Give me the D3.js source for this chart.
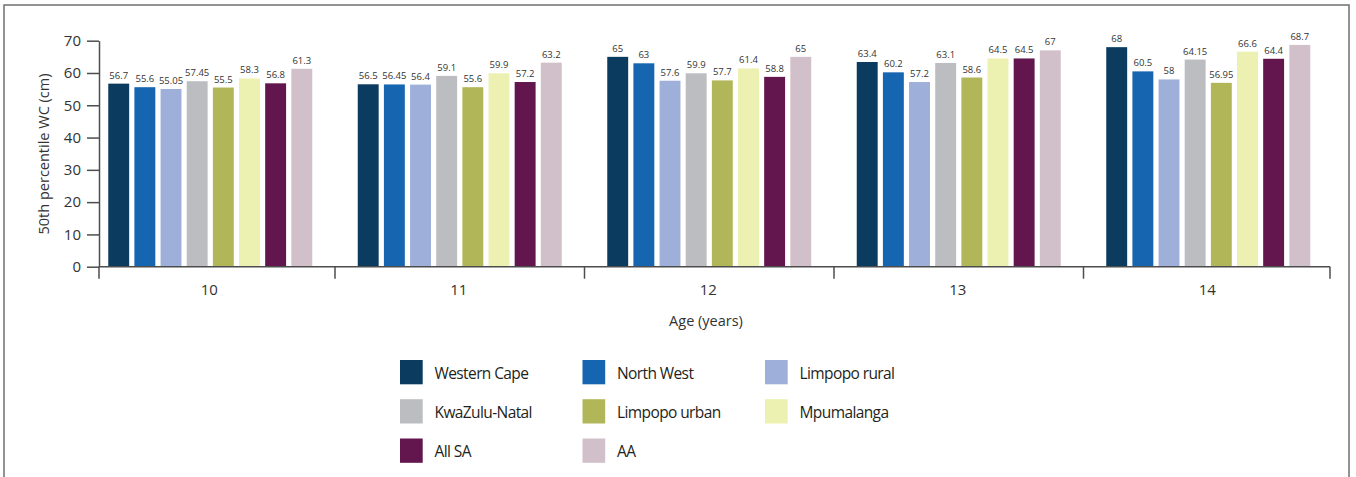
<!DOCTYPE html>
<html><head><meta charset="utf-8">
<script src="https://cdn.jsdelivr.net/npm/d3@7"></script>
<style>
body{margin:0;background:#fff}
svg{display:block}
text{font-family:"Open Sans","Noto Sans",sans-serif}
</style>
</head><body><svg id="c" width="1356" height="477"></svg>
<script>
// ---- data ----
const ages = ["10", "11", "12", "13", "14"];
const seriesNames = ["Western Cape", "North West", "Limpopo rural", "KwaZulu-Natal", "Limpopo urban", "Mpumalanga", "All SA", "AA"];
const westernCape  = [56.7, 56.5, 65, 63.4, 68];
const northWest    = [55.6, 56.45, 63, 60.2, 60.5];
const limpopoRural = [55.05, 56.4, 57.6, 57.2, 58];
const kwaZuluNatal = [57.45, 59.1, 59.9, 63.1, 64.15];
const limpopoUrban = [55.5, 55.6, 57.7, 58.6, 56.95];
const mpumalanga   = [58.3, 59.9, 61.4, 64.5, 66.6];
const allSA        = [56.8, 57.2, 58.8, 64.5, 64.4];
const aa           = [61.3, 63.2, 65, 67, 68.7];
const yTicks = [0, 10, 20, 30, 40, 50, 60, 70];
const xTitle = "Age (years)";
const yTitle = "50th percentile WC (cm)";

const seriesValues = [westernCape, northWest, limpopoRural, kwaZuluNatal, limpopoUrban, mpumalanga, allSA, aa];
const colors = ["#0c3b60", "#1565b0", "#9eb0d9", "#bcbdc1", "#b1b758", "#ecf0b0", "#62164d", "#d1bfc9"];

const svg = d3.select("#c");
const axisColor = "#4d4d4d";
const textColor = "#333";

// frame
svg.append("path")
  .attr("d", "M4,477V5H1349V477")
  .attr("fill", "none").attr("stroke", "#707070").attr("stroke-width", 1.5);

const axisLeft = 99, axisRight = 1330, plotBottom = 266.7, plotTop = 40.7;

const y = d3.scaleLinear().domain([0, 70]).range([plotBottom, plotTop]);
const x = d3.scaleBand().domain(ages).range([85.5, 1333]);
const groupW = 204;
const x1 = d3.scaleBand().domain(seriesNames).range([0, groupW]).paddingInner(0.2);
const groupOff = (x.bandwidth() - groupW) / 2;

// y axis
const ya = svg.append("g").attr("transform", `translate(${axisLeft},0)`)
  .call(d3.axisLeft(y).tickValues(yTicks).tickSize(12).tickSizeOuter(0).tickPadding(6));
ya.select(".domain").attr("stroke", axisColor).attr("stroke-width", 1.5);
ya.selectAll(".tick line").attr("stroke", axisColor).attr("stroke-width", 1.5);
ya.selectAll(".tick text").attr("fill", textColor).style("font-size", "15px")
  .style("font-family", '"Open Sans","Noto Sans",sans-serif');

// bars
const data = [];
ages.forEach((a, i) => seriesNames.forEach((s, j) => data.push({age: a, series: s, value: seriesValues[j][i], color: colors[j]})));

svg.append("g").selectAll("rect").data(data).join("rect")
  .attr("x", d => x(d.age) + groupOff + x1(d.series))
  .attr("width", x1.bandwidth())
  .attr("y", d => y(d.value))
  .attr("height", d => y(0) - y(d.value))
  .attr("fill", d => d.color);

svg.append("g").selectAll("text").data(data).join("text")
  .attr("x", d => x(d.age) + groupOff + x1(d.series) + x1.bandwidth() / 2)
  .attr("y", d => y(d.value) - 5)
  .attr("text-anchor", "middle")
  .attr("fill", textColor)
  .style("font-size", "9.5px")
  .text(d => String(d.value));

// x axis
const xa = svg.append("g");
xa.append("line").attr("x1", axisLeft).attr("x2", axisRight)
  .attr("y1", plotBottom).attr("y2", plotBottom)
  .attr("stroke", axisColor).attr("stroke-width", 1.5);
const tickXs = [axisLeft].concat(ages.slice(1).map(a => x(a)), [axisRight]);
xa.selectAll("line.t").data(tickXs).join("line").attr("class", "t")
  .attr("x1", d => d).attr("x2", d => d)
  .attr("y1", plotBottom).attr("y2", plotBottom + 12)
  .attr("stroke", axisColor).attr("stroke-width", 1.5);
xa.selectAll("text").data(ages).join("text")
  .attr("x", d => x(d) + x.bandwidth() / 2 - 1)
  .attr("y", 295)
  .attr("text-anchor", "middle").attr("fill", textColor)
  .style("font-size", "15px").text(d => d);

// titles
svg.append("text").attr("x", 706).attr("y", 326)
  .attr("text-anchor", "middle").attr("fill", textColor)
  .style("font-size", "14.5px").text(xTitle);
svg.append("text").attr("transform", "translate(49,154) rotate(-90)")
  .attr("text-anchor", "middle").attr("fill", textColor)
  .style("font-size", "14.5px").text(yTitle);

// legend
const colX = [400, 582.5, 765];
const rowY = [360, 399.2, 438.5];
const lg = svg.append("g").selectAll("g").data(seriesNames).join("g")
  .attr("transform", (d, i) => `translate(${colX[i % 3]},${rowY[Math.floor(i / 3)]})`);
lg.append("rect").attr("width", 22.7).attr("height", 24.3).attr("fill", (d, i) => colors[i]);
lg.append("text").attr("x", 34.5).attr("y", 18.8).attr("fill", "#231f20")
  .style("font-size", "15.5px").style("letter-spacing", "-0.6px").text(d => d);
</script>
</body></html>
